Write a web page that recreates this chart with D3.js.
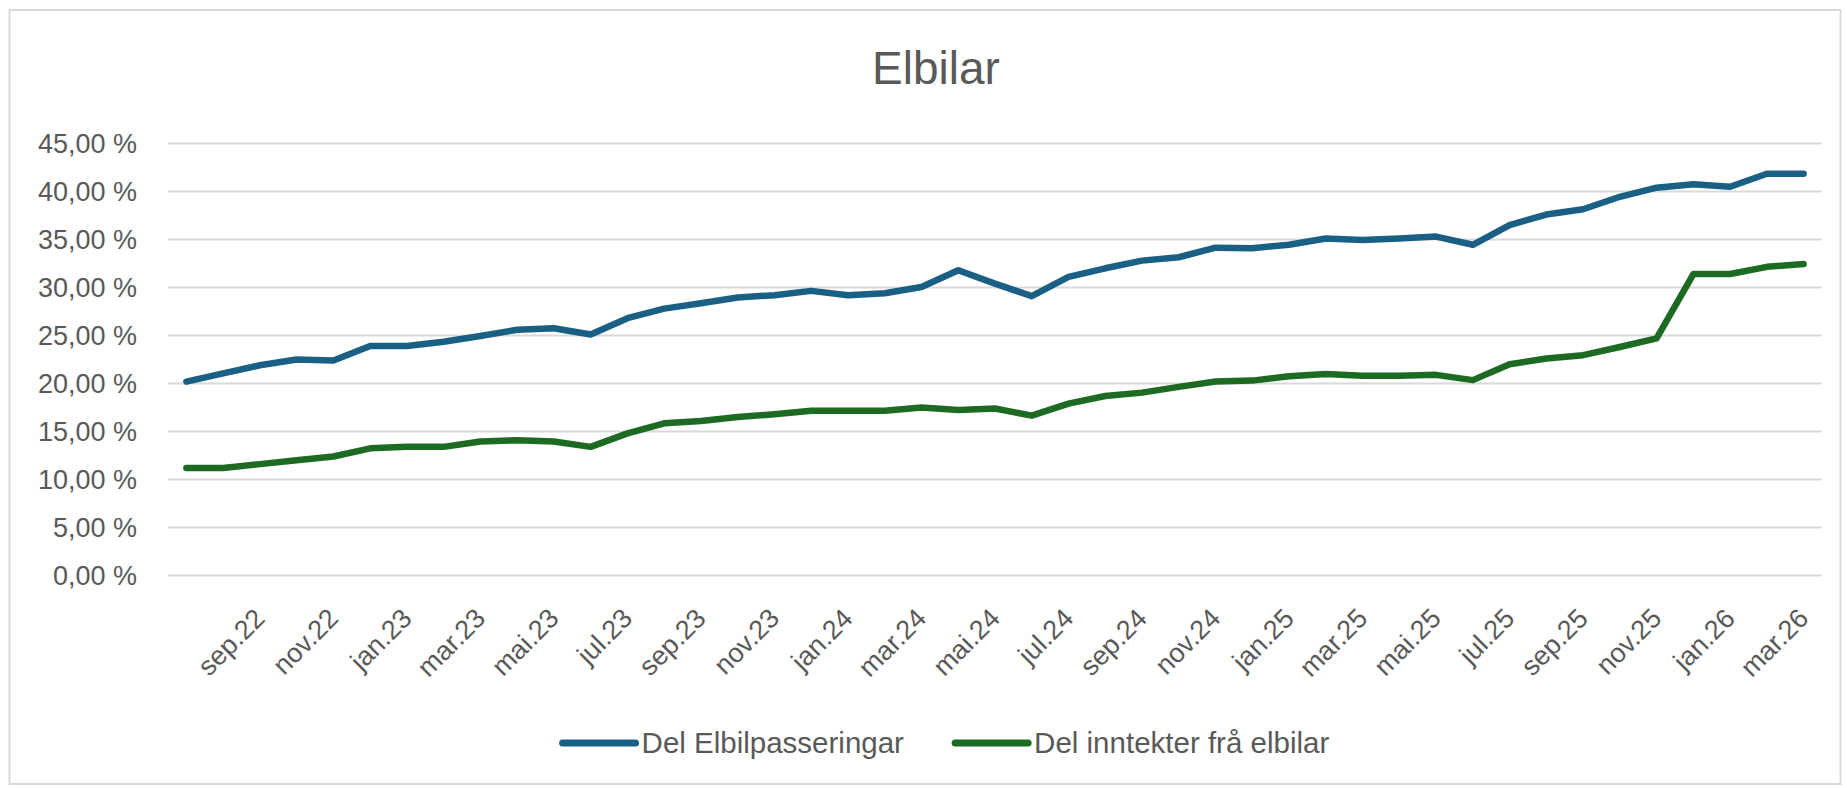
<!DOCTYPE html>
<html>
<head>
<meta charset="utf-8">
<title>Elbilar</title>
<script src="https://cdn.jsdelivr.net/npm/d3@7"></script>
<style>
  html, body { margin: 0; padding: 0; background: #fff; }
  svg { display: block; font-family: "Liberation Sans", Arial, sans-serif; }
</style>
</head>
<body>
<script>
const width = 1847, height = 788;

// months on the category axis
const months = [
  "jul.22", "aug.22", "sep.22", "okt.22", "nov.22", "des.22",
  "jan.23", "feb.23", "mar.23", "apr.23", "mai.23", "jun.23", "jul.23", "aug.23", "sep.23", "okt.23", "nov.23", "des.23",
  "jan.24", "feb.24", "mar.24", "apr.24", "mai.24", "jun.24", "jul.24", "aug.24", "sep.24", "okt.24", "nov.24", "des.24",
  "jan.25", "feb.25", "mar.25", "apr.25", "mai.25", "jun.25", "jul.25", "aug.25", "sep.25", "okt.25", "nov.25", "des.25",
  "jan.26", "feb.26", "mar.26"
];

// only every second month gets a label
const tickLabels = [
  "sep.22", "nov.22", "jan.23", "mar.23", "mai.23", "jul.23", "sep.23", "nov.23",
  "jan.24", "mar.24", "mai.24", "jul.24", "sep.24", "nov.24", "jan.25", "mar.25",
  "mai.25", "jul.25", "sep.25", "nov.25", "jan.26", "mar.26"
];

const yTicks = [0, 5, 10, 15, 20, 25, 30, 35, 40, 45];

// share in percent
const elbilPasseringar = [
  20.2, 21.05, 21.9, 22.5, 22.4, 23.9, 23.9, 24.35, 24.95, 25.6, 25.75, 25.1,
  26.8, 27.8, 28.35, 28.95, 29.2, 29.65, 29.2, 29.4, 30.05, 31.8, 30.4, 29.1,
  31.1, 32.0, 32.8, 33.15, 34.15, 34.1, 34.45, 35.1, 34.95, 35.1, 35.3, 34.45,
  36.5, 37.6, 38.15, 39.45, 40.4, 40.75, 40.5, 41.85, 41.85
];

const inntekterElbil = [
  11.2, 11.2, 11.6, 12.0, 12.4, 13.25, 13.4, 13.4, 13.95, 14.1, 13.95, 13.4,
  14.8, 15.85, 16.1, 16.5, 16.8, 17.15, 17.15, 17.15, 17.5, 17.25, 17.4, 16.65,
  17.9, 18.7, 19.05, 19.65, 20.2, 20.3, 20.75, 21.0, 20.8, 20.8, 20.9, 20.35,
  22.0, 22.6, 22.95, 23.8, 24.7, 31.4, 31.4, 32.15, 32.45
];

const seriesNames = ["Del Elbilpasseringar", "Del inntekter frå elbilar"];

const series = [
  {name: seriesNames[0], values: elbilPasseringar, color: "#1a5f84"},
  {name: seriesNames[1], values: inntekterElbil, color: "#1d6b23"}
];

const plot = {left: 168, right: 1822, top: 143.5, bottom: 575.5};
const textColor = "#595959";

const x = d3.scalePoint()
    .domain(months)
    .range([plot.left, plot.right])
    .padding(0.5);

const y = d3.scaleLinear()
    .domain([0, 45])
    .range([plot.bottom, plot.top]);

const svg = d3.select("body").append("svg")
    .attr("width", width)
    .attr("height", height)
    .attr("viewBox", [0, 0, width, height]);

// chart area border
svg.append("rect")
    .attr("x", 9.5)
    .attr("y", 10)
    .attr("width", 1831)
    .attr("height", 774)
    .attr("fill", "#fff")
    .attr("stroke", "#d9d9d9")
    .attr("stroke-width", 2);

svg.append("text")
    .attr("x", 936)
    .attr("y", 84)
    .attr("text-anchor", "middle")
    .attr("fill", textColor)
    .style("font-size", "46px")
    .text("Elbilar");

// gridlines
svg.append("g")
    .attr("stroke", "#d9d9d9")
    .attr("stroke-width", 2)
  .selectAll("line")
  .data(yTicks)
  .join("line")
    .attr("x1", plot.left)
    .attr("x2", plot.right)
    .attr("y1", d => y(d))
    .attr("y2", d => y(d));

const yAxis = svg.append("g")
    .attr("transform", `translate(${plot.left},0)`)
    .call(d3.axisLeft(y)
      .tickValues(yTicks)
      .tickSize(0)
      .tickPadding(31)
      .tickFormat(d => d.toFixed(2).replace(".", ",") + " %"));
yAxis.select(".domain").remove();
yAxis.selectAll("text")
    .attr("fill", textColor)
    .style("font-size", "27px")
    .style("font-family", "Liberation Sans, Arial, sans-serif");

const xAxis = svg.append("g")
    .attr("transform", `translate(0,${plot.bottom})`)
    .call(d3.axisBottom(x).tickValues(tickLabels).tickSize(0));
xAxis.select(".domain").remove();
xAxis.selectAll("text")
    .attr("x", 0)
    .attr("y", 0)
    .attr("dy", 0)
    .attr("text-anchor", "end")
    .attr("transform", "translate(6,44.5) rotate(-45)")
    .attr("fill", textColor)
    .style("font-size", "27px")
    .style("font-family", "Liberation Sans, Arial, sans-serif");

const line = d3.line()
    .x((d, i) => x(months[i]))
    .y(d => y(d));

svg.append("g")
    .attr("fill", "none")
    .attr("stroke-width", 6.5)
    .attr("stroke-linejoin", "round")
    .attr("stroke-linecap", "round")
  .selectAll("path")
  .data(series)
  .join("path")
    .attr("stroke", d => d.color)
    .attr("d", d => line(d.values));

// legend, centred under the plot
const legend = svg.append("g");
const item = legend.selectAll("g")
  .data(series)
  .join("g");
item.append("line")
    .attr("x1", 0)
    .attr("x2", 73)
    .attr("stroke", d => d.color)
    .attr("stroke-width", 7)
    .attr("stroke-linecap", "round");
item.append("text")
    .attr("x", 79)
    .attr("dy", "0.35em")
    .attr("fill", textColor)
    .style("font-size", "29.5px")
    .text(d => d.name);

let offset = 0;
item.each(function() {
  d3.select(this).attr("transform", `translate(${offset},0)`);
  offset += this.getBBox().width + 51;
});
const legendWidth = offset - 51;
legend.attr("transform", `translate(${946 - legendWidth / 2},743)`);
</script>
</body>
</html>
